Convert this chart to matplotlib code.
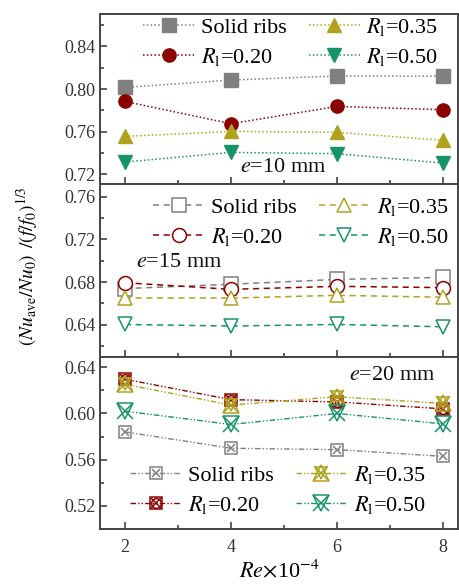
import matplotlib
matplotlib.use("Agg")
import matplotlib.pyplot as plt
from matplotlib.ticker import MultipleLocator
from matplotlib.legend_handler import HandlerTuple

plt.rcParams['font.family'] = ['Liberation Serif', 'DejaVu Serif']
plt.rcParams['mathtext.fontset'] = 'stix'

re_vals = [2, 4, 6, 8]
series_names = ['Solid ribs', r'$R_{\mathrm{l}}$=0.20', r'$R_{\mathrm{l}}$=0.35', r'$R_{\mathrm{l}}$=0.50']
colors = ['#808080', '#8b0000', '#b0a21c', '#17936a']

e10 = {
    'Solid ribs': [0.8015, 0.8084, 0.8122, 0.8120],
    'R020': [0.7884, 0.7675, 0.7837, 0.7806],
    'R035': [0.7556, 0.7603, 0.7594, 0.7519],
    'R050': [0.7316, 0.7406, 0.7394, 0.7306],
}
e15 = {
    'Solid ribs': [0.6739, 0.6780, 0.6825, 0.6844],
    'R020': [0.6794, 0.6732, 0.6760, 0.6748],
    'R035': [0.6651, 0.6650, 0.6676, 0.6658],
    'R050': [0.6403, 0.6388, 0.6403, 0.6381],
}
e20 = {
    'Solid ribs': [0.5841, 0.5699, 0.5687, 0.5629],
    'R020': [0.6297, 0.6120, 0.6100, 0.6040],
    'R035': [0.6253, 0.6073, 0.6145, 0.6087],
    'R050': [0.6020, 0.5905, 0.6000, 0.5910],
}
keys = ['Solid ribs', 'R020', 'R035', 'R050']

W, H = 459, 587
fig = plt.figure(figsize=(W / 100, H / 100), dpi=100)
left = 100 / W
width = 358 / W

def add_ax(top_px, bot_px):
    return fig.add_axes([left, 1 - bot_px / H, width, (bot_px - top_px) / H])

ax1 = add_ax(14, 184)
ax2 = add_ax(184, 357)
ax3 = add_ax(357, 529)

for ax in (ax1, ax2, ax3):
    ax.set_xlim(1.53, 8.28)
    ax.xaxis.set_major_locator(MultipleLocator(2))
    ax.xaxis.set_minor_locator(MultipleLocator(1))
    ax.yaxis.set_major_locator(MultipleLocator(0.04))
    ax.yaxis.set_minor_locator(MultipleLocator(0.02))
    ax.tick_params(which='both', direction='in', top=False, right=False,
                   labelsize=13, colors='#333333', width=1.1)
    ax.tick_params(which='major', length=5)
    ax.tick_params(which='minor', length=3)
    ax.tick_params(axis='x', pad=7)
    for s in ax.spines.values():
        s.set_color('#444444')
        s.set_linewidth(1.4)
    ax.yaxis.set_major_formatter(plt.FuncFormatter(lambda v, p: f'{v:.2f}'))

ax1.set_ylim(0.711, 0.8703)
ax2.set_ylim(0.6098, 0.7719)
ax3.set_ylim(0.5000, 0.6489)
ax1.tick_params(labelbottom=False)
ax2.tick_params(labelbottom=False)

leg_kw = dict(ncol=2, loc='center left', frameon=False, fontsize=16,
              handlelength=2.3, handletextpad=0.3, columnspacing=1.0,
              labelspacing=0.35, borderaxespad=0, borderpad=0)

# Panel 1
mk1 = ['s', 'o', '^', 'v']
h1 = []
for k, name, c, m in zip(keys, series_names, colors, mk1):
    ln, = ax1.plot(re_vals, e10[k], ls=(0, (1, 1.5)), lw=1.1, color=c, marker=m,
                   ms=9.5, mfc=c, mec=c, label=name)
    h1.append(ln)
ax1.legend(handles=h1, bbox_to_anchor=(0.12, 0.835), **leg_kw)
ax1.text(0.511, 0.10, r'$e$=10 mm', transform=ax1.transAxes, fontsize=16,
         ha='center', va='center', color='#111111')

# Panel 2
h2 = []
for k, name, c, m in zip(keys, series_names, colors, mk1):
    ln, = ax2.plot(re_vals, e15[k], ls=(0, (4, 3)), lw=1.1, color=c, marker=m,
                   ms=10, mfc='white', mec=c, mew=1.1, label=name)
    h2.append(ln)
ax2.legend(handles=h2, bbox_to_anchor=(0.148, 0.78), **leg_kw)
ax2.text(0.221, 0.549, r'$e$=15 mm', transform=ax2.transAxes, fontsize=16,
         ha='center', va='center', color='#111111')

# Panel 3 (composite markers)
mk3 = [['s', 'x'], ['s', 'o', 'x'], ['^', 'v', 'x'], ['v', 'x']]
ms3 = [[8, 6], [9, 7, 7], [11, 8, 10], [12, 11]]
ls3 = (0, (4, 1.5, 1, 1.5, 1, 1.5))
h3 = []
for k, name, c, mlist, slist in zip(keys, series_names, colors, mk3, ms3):
    parts = []
    ln, = ax3.plot(re_vals, e20[k], ls=ls3, lw=1.0, color=c, marker=mlist[0],
                   ms=slist[0], mfc='none', mec=c, mew=1.1)
    parts.append(ln)
    for m, s in zip(mlist[1:], slist[1:]):
        p, = ax3.plot(re_vals, e20[k], ls='none', marker=m, ms=s, mfc='none',
                      mec=c, mew=1.1)
        parts.append(p)
    h3.append(tuple(parts))
ax3.legend(handles=h3, labels=series_names, bbox_to_anchor=(0.084, 0.227),
           handler_map={tuple: HandlerTuple(ndivide=1, pad=0)}, **leg_kw)
ax3.text(0.816, 0.892, r'$e$=20 mm', transform=ax3.transAxes, fontsize=16,
         ha='center', va='center', color='#111111')

ax3.set_xlabel(r'$Re$$\times$10$^{-4}$', fontsize=16, labelpad=3)

fig.text(27 / W, 1 - 266 / H, r'$(Nu_{\mathrm{ave}}/Nu_0)\ \,/(f/f_0)^{1/3}$',
         rotation=90, fontsize=14, ha='center', va='center')

fig.savefig('out.png', dpi=100)
